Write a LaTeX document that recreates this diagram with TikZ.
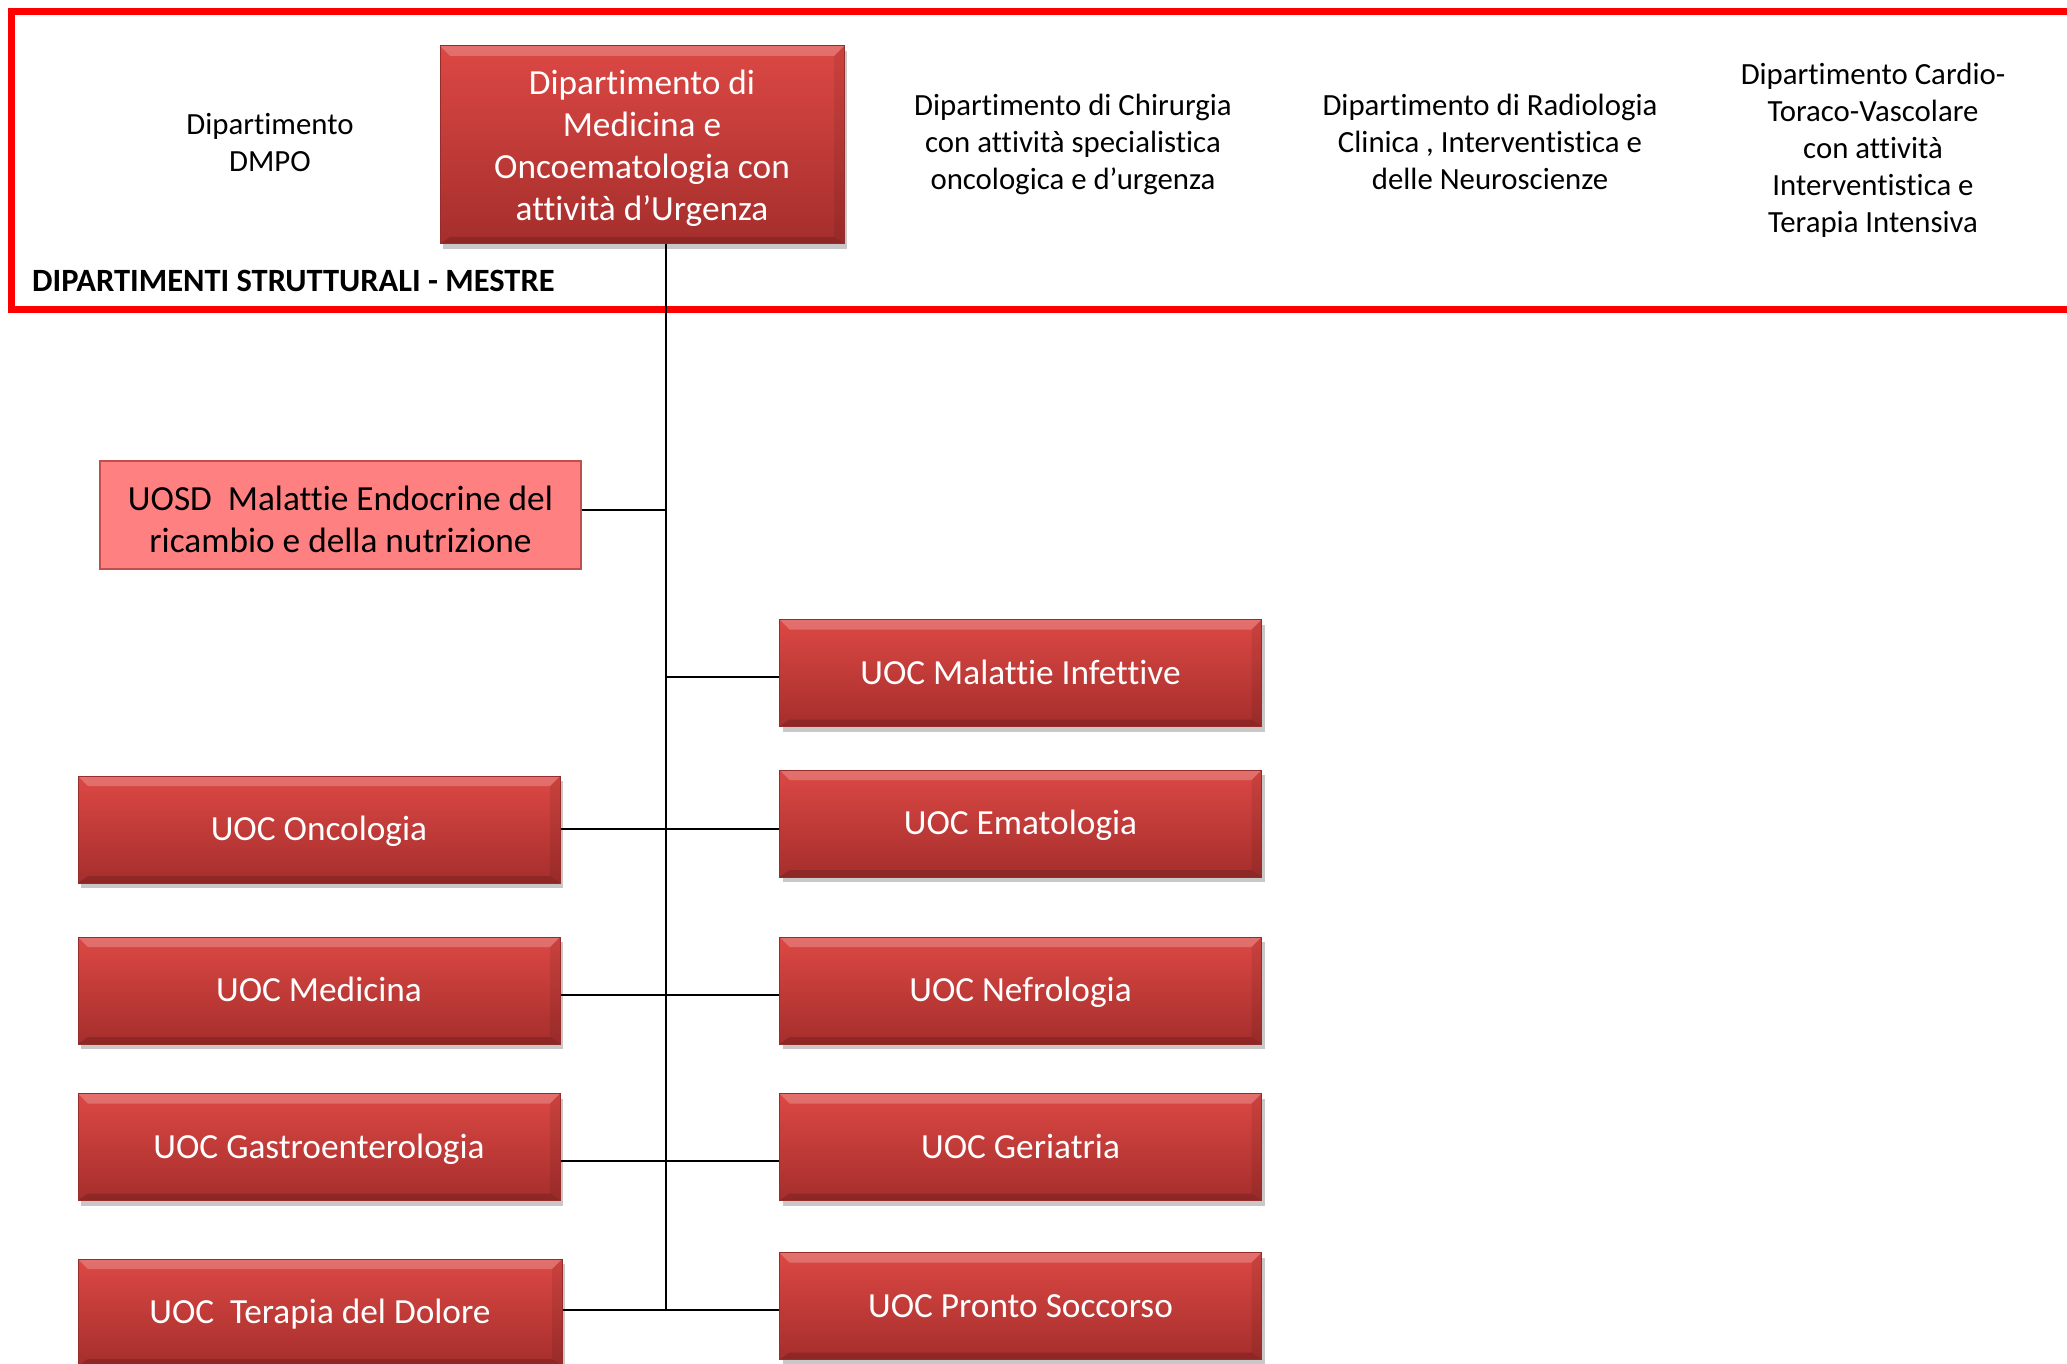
\documentclass[tikz,border=0pt]{standalone}
\usepackage{fontspec}
\setmainfont{Carlito}[Ligatures={NoCommon,NoContextual}]
\usetikzlibrary{shadows}
\definecolor{boxtop}{RGB}{220,72,68}
\definecolor{boxbot}{RGB}{165,46,44}
\definecolor{boxedge}{RGB}{150,45,42}
\definecolor{pinkfill}{RGB}{255,128,128}
\definecolor{pinkedge}{RGB}{192,80,77}
\definecolor{framered}{RGB}{255,0,0}
\newcommand{\boxfont}{\fontsize{35.3}{42}\selectfont}
\newcommand{\topfont}{\fontsize{30.8}{37}\selectfont}
\newcommand{\bs}{\rule[-8.4pt]{0pt}{39.4pt}}
\newcommand{\bsmain}{\rule[-8.4pt]{0pt}{41.4pt}}
\newcommand{\bsdown}{\rule[-8.4pt]{0pt}{49.4pt}}
\newcommand{\ts}{\rule[-7.2pt]{0pt}{34.2pt}}
\tikzset{
  uoc/.style={rectangle, minimum width=482pt, minimum height=107pt, inner sep=0pt,
    text=white, font=\boxfont, align=center,
    top color=boxtop, bottom color=boxbot, draw=boxedge, line width=1pt,
    drop shadow={shadow xshift=3pt, shadow yshift=-5pt, opacity=0.3, fill=black!70},
    path picture={
      \fill[white,opacity=0.22] (path picture bounding box.north west) -- (path picture bounding box.north east)
        -- ([xshift=-10pt,yshift=-10pt]path picture bounding box.north east) -- ([xshift=10pt,yshift=-10pt]path picture bounding box.north west) -- cycle;
      \fill[black,opacity=0.15] (path picture bounding box.south west) -- (path picture bounding box.south east)
        -- ([xshift=-10pt,yshift=7pt]path picture bounding box.south east) -- ([xshift=10pt,yshift=7pt]path picture bounding box.south west) -- cycle;
      \fill[black,opacity=0.08] (path picture bounding box.north east) -- (path picture bounding box.south east)
        -- ([xshift=-10pt,yshift=7pt]path picture bounding box.south east) -- ([xshift=-10pt,yshift=-10pt]path picture bounding box.north east) -- cycle;
    }},
  pinkbox/.style={rectangle, minimum width=481pt, minimum height=108pt, inner sep=0pt,
    text=black, font=\boxfont, align=center, fill=pinkfill, draw=pinkedge, line width=2pt},
  toptext/.style={font=\topfont, align=center, text=black, inner sep=0pt},
  conn/.style={draw=black, line width=2pt}
}
\begin{document}
\begin{tikzpicture}[x=1pt, y=-1pt]
\useasboundingbox (0,0) rectangle (2067,1364);
\fill[white] (0,0) rectangle (2067,1364);
% frame
\draw[framered, line width=7pt] (2090,11.5) -- (11.5,11.5) -- (11.5,310) -- (2090,310);
% top texts
\node[toptext] (dmpo) at (270,143) {\ts Dipartimento\\\ts DMPO};
\node[toptext] (chir) at (1073,143) {\ts Dipartimento di Chirurgia\\con attività specialistica\\\ts oncologica e d’urgenza};
\node[toptext] (radio) at (1490,143) {\ts Dipartimento di Radiologia\\Clinica , Interventistica e\\\ts delle Neuroscienze};
\node[toptext] (cardio) at (1873,149) {\ts Dipartimento Cardio-\\Toraco-Vascolare\\con attività\\Interventistica e\\\ts Terapia Intensiva};
\node[font=\fontsize{32.5}{38}\selectfont\bfseries, anchor=west, inner sep=0pt] (lbl) at (32,282) {\ts DIPARTIMENTI STRUTTURALI - MESTRE};
% main box
\node[uoc, minimum width=404pt, minimum height=198pt] (main) at (642,145) {\bsmain Dipartimento di\\Medicina e\\Oncoematologia con\\\bs attività d’Urgenza};
% units
\node[pinkbox] (uosd) at (340.5,515) {\bsdown UOSD\ \ Malattie Endocrine del\\\bs ricambio e della nutrizione};
\node[uoc] (infett) at (1020.5,673) {\bs UOC Malattie Infettive};
\node[uoc] (onco) at (319,829.5) {\bs UOC Oncologia};
\node[uoc] (emato) at (1020.5,823.5) {\bs UOC Ematologia};
\node[uoc] (medic) at (319,990.5) {\bs UOC Medicina};
\node[uoc] (nefro) at (1020.5,990.5) {\bs UOC Nefrologia};
\node[uoc] (gastro) at (319,1147) {\bs UOC Gastroenterologia};
\node[uoc] (geria) at (1020.5,1147) {\bs UOC Geriatria};
\node[uoc, minimum width=484pt] (dolore) at (320,1312.5) {\bs UOC\ \ Terapia del Dolore};
\node[uoc] (pronto) at (1020.5,1306) {\bs UOC Pronto Soccorso};
% trunk
\coordinate (trunktop) at ([xshift=24pt]main.south);
\coordinate (trunkbot) at (666,1310);
\draw[conn] (trunktop) -- (trunkbot);
% connectors
\draw[conn] ([yshift=5pt]uosd.east) -- ([yshift=5pt]uosd.east -| trunkbot);
\draw[conn] ([yshift=-4pt]infett.west) -- ([yshift=-4pt]infett.west -| trunkbot);
\draw[conn] ([yshift=1pt]onco.east) -- ([yshift=1pt]onco.east -| emato.west);
\draw[conn] ([yshift=-4pt]medic.east) -- ([yshift=-4pt]medic.east -| nefro.west);
\draw[conn] ([yshift=-14pt]gastro.east) -- ([yshift=-14pt]gastro.east -| geria.west);
\draw[conn] (dolore.east |- trunkbot) -- (pronto.west |- trunkbot);
\end{tikzpicture}
\end{document}
